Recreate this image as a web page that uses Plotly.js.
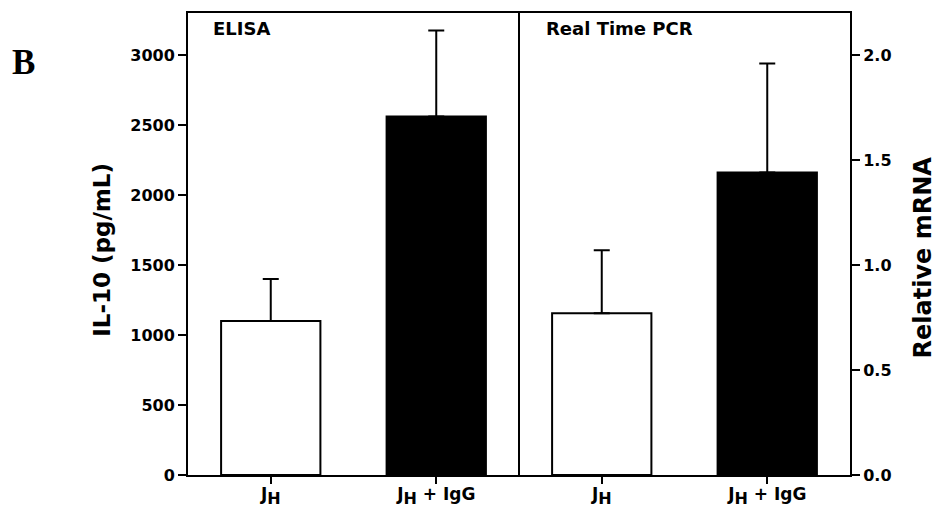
<!DOCTYPE html>
<html>
<head>
<meta charset="utf-8">
<script src="https://cdn.plot.ly/plotly-3.0.1.min.js"></script>
<style>
  html, body { margin: 0; padding: 0; background: #fff; }
  #chart { width: 938px; height: 508px; }
</style>
</head>
<body>
<div id="chart"></div>
<script>
// Group labels shared by both panels (subscript H kept at full label size)
const groups = ['J<sub><span style="font-size:16px">H</span></sub>',
                'J<sub><span style="font-size:16px">H</span></sub> + IgG'];
const barColors = ['#ffffff', '#000000'];

// ELISA: IL-10 protein (pg/mL), mean and upper error
const elisaPos = [0, 1];
const elisaMean = [1100, 2560];
const elisaErr = [300, 615];

// Real Time PCR: relative IL-10 mRNA, mean and upper error
const pcrPos = [2, 3];
const pcrMean = [0.77, 1.44];
const pcrErr = [0.30, 0.52];

const tickPos = elisaPos.concat(pcrPos);
const tickText = groups.concat(groups);

const zeros = arr => arr.map(() => 0);

const barStyle = {
  type: 'bar',
  width: 0.6,
  marker: { color: barColors, line: { color: '#000', width: 2 } },
  hoverinfo: 'skip',
  showlegend: false
};

const traces = [
  Object.assign({}, barStyle, {
    x: elisaPos, y: elisaMean, yaxis: 'y',
    error_y: { type: 'data', symmetric: false, array: elisaErr, arrayminus: zeros(elisaErr),
               color: '#000', thickness: 2, width: 8 }
  }),
  Object.assign({}, barStyle, {
    x: pcrPos, y: pcrMean, yaxis: 'y2',
    error_y: { type: 'data', symmetric: false, array: pcrErr, arrayminus: zeros(pcrErr),
               color: '#000', thickness: 2, width: 8 }
  })
];

const sans = 'DejaVu Sans';

const layout = {
  width: 938, height: 508,
  margin: { l: 188, r: 88, t: 13, b: 33 },
  paper_bgcolor: '#fff', plot_bgcolor: '#fff',
  font: { family: sans, weight: 'bold', color: '#000', size: 16 },
  xaxis: {
    range: [-0.5, 3.5],
    tickmode: 'array', tickvals: tickPos, ticktext: tickText,
    ticks: 'outside', ticklen: 7, tickwidth: 2, tickcolor: '#000',
    ticklabelstandoff: -4,
    tickfont: { family: sans, weight: 'bold', size: 17 },
    showline: true, linecolor: '#000', linewidth: 2, mirror: true,
    showgrid: false, zeroline: false, fixedrange: true
  },
  yaxis: {
    range: [0, 3300], dtick: 500, tick0: 0,
    ticks: 'outside', ticklen: 8, tickwidth: 2, tickcolor: '#000',
    tickfont: { family: sans, weight: 'bold', size: 16 },
    showline: true, linecolor: '#000', linewidth: 2,
    showgrid: false, zeroline: false, fixedrange: true
  },
  yaxis2: {
    range: [0, 2.2], dtick: 0.5, tick0: 0, tickformat: '.1f',
    overlaying: 'y', side: 'right',
    ticks: 'outside', ticklen: 8, tickwidth: 2, tickcolor: '#000',
    tickfont: { family: sans, weight: 'bold', size: 16 },
    showline: true, linecolor: '#000', linewidth: 2,
    showgrid: false, zeroline: false, fixedrange: true
  },
  shapes: [
    // divider between the ELISA and PCR panels
    { type: 'line', xref: 'x', yref: 'paper', x0: 1.5, x1: 1.5, y0: 0, y1: 1,
      line: { color: '#000', width: 2 } }
  ],
  annotations: [
    { text: 'ELISA', xref: 'paper', yref: 'paper', x: 0.034, y: 0.967,
      xanchor: 'left', yanchor: 'middle', showarrow: false,
      font: { family: sans, weight: 'bold', size: 18 } },
    { text: 'Real Time PCR', xref: 'paper', yref: 'paper', x: 0.538, y: 0.967,
      xanchor: 'left', yanchor: 'middle', showarrow: false,
      font: { family: sans, weight: 'bold', size: 18 } },
    { text: 'B', xref: 'paper', yref: 'paper', x: -0.249, y: 0.892,
      xanchor: 'center', yanchor: 'middle', showarrow: false,
      font: { family: 'Liberation Serif', weight: 'bold', size: 35 } },
    // axis titles for the left (ELISA) and right (PCR) scales
    { text: 'IL-10 (pg/mL)', xref: 'paper', yref: 'paper', x: -0.1304, y: 0.4867,
      xanchor: 'center', yanchor: 'middle', textangle: -90, showarrow: false,
      font: { family: sans, weight: 'bold', size: 23 } },
    { text: 'Relative mRNA', xref: 'paper', yref: 'paper', x: 1.110, y: 0.4705,
      xanchor: 'center', yanchor: 'middle', textangle: -90, showarrow: false,
      borderpad: 0,
      font: { family: sans, weight: 'bold', size: 24 } }
  ]
};

Plotly.newPlot('chart', traces, layout, { staticPlot: true, displayModeBar: false });
</script>
</body>
</html>
